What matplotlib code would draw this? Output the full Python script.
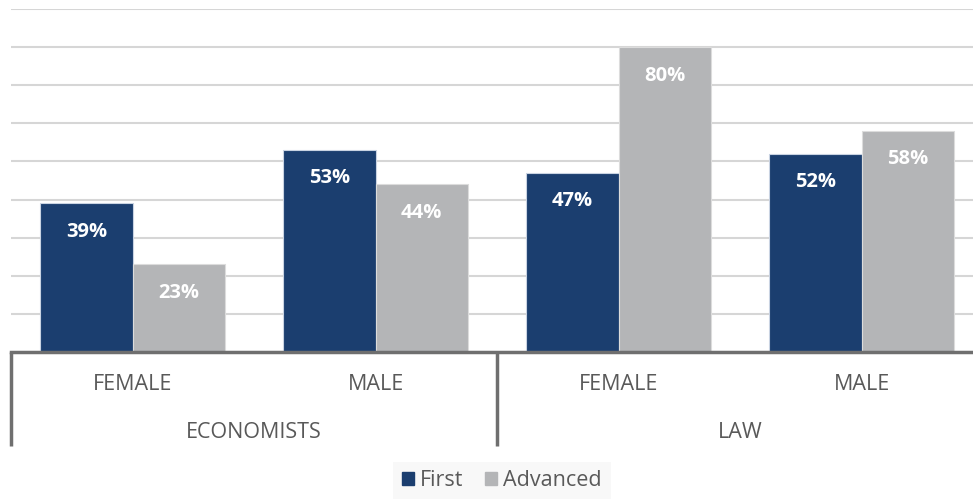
import matplotlib.pyplot as plt
from matplotlib.patches import Patch
import numpy as np

plt.rcParams['font.family'] = ['Open Sans', 'DejaVu Sans']

# Data
groups = ['ECONOMISTS', 'LAW']
genders = ['FEMALE', 'MALE', 'FEMALE', 'MALE']
series = ['First', 'Advanced']
first = [39, 53, 47, 52]
advanced = [23, 44, 80, 58]

navy = '#1b3e6f'
grey = '#b4b5b7'
text_col = '#595959'

fig = plt.figure(figsize=(9.73, 4.99), dpi=100)
W, H = 973, 499
# axes in pixel units: left 11, baseline 352, top (90%) 9, right edge past the figure
ax = fig.add_axes([11 / W, (H - 352) / H, 972 / W, 343 / H])

x = np.arange(len(genders))
bw = 0.379
b1 = ax.bar(x - bw / 2, first, bw, color=navy, edgecolor='#c9d3e2', linewidth=0.8, zorder=3)
b2 = ax.bar(x + bw / 2, advanced, bw, color=grey, edgecolor='#dcdcdc', linewidth=0.8, zorder=3)

for bars, vals in ((b1, first), (b2, advanced)):
    for b, v in zip(bars, vals):
        ax.annotate(f'{v}%', (b.get_x() + b.get_width() / 2, v), xytext=(0, -20.5),
                    textcoords='offset points', ha='center', va='center',
                    color='white', fontsize=14.5, fontweight='bold', zorder=4)

ax.set_xlim(-0.5, 3.5)
ax.set_ylim(0, 90)
ax.set_yticks(np.arange(0, 91, 10))
ax.yaxis.grid(True, color='#d6d6d6', linewidth=1.5, zorder=0)
ax.tick_params(left=False, labelleft=False, bottom=False, labelbottom=False)
for s in ('top', 'right', 'left'):
    ax.spines[s].set_visible(False)
ax.spines['bottom'].set_color('#6f6f6f')
ax.spines['bottom'].set_linewidth(2.5)
ax.spines['bottom'].set_zorder(5)

# two-level category axis
tr = ax.get_xaxis_transform()
for xi, g in zip(x, genders):
    ax.text(xi, -0.094, g, transform=tr, ha='center', va='center',
            fontsize=15.5, color=text_col)
for gi, g in enumerate(groups):
    ax.text(gi * 2 + 0.5, -0.236, g, transform=tr, ha='center', va='center',
            fontsize=15.5, color=text_col)
for xb in (-0.5, 1.5, 3.5):
    ax.plot([xb, xb], [0, -0.274], transform=tr, color='#6f6f6f',
            linewidth=2.5, clip_on=False, solid_capstyle='butt')

handles = [Patch(facecolor=navy, edgecolor=navy), Patch(facecolor=grey, edgecolor=grey)]
leg = fig.legend(handles, series, loc='center', bbox_to_anchor=(502 / W, (H - 481) / H),
                 ncol=2, frameon=True, fontsize=15.5, handlelength=0.55, handleheight=0.55,
                 handletextpad=0.3, columnspacing=1.0, borderpad=0.4, fancybox=False,
                 labelcolor=text_col)
leg.get_frame().set_facecolor('#f7f7f7')
leg.get_frame().set_edgecolor('none')

fig.savefig('out.png', dpi=100, facecolor='white')
